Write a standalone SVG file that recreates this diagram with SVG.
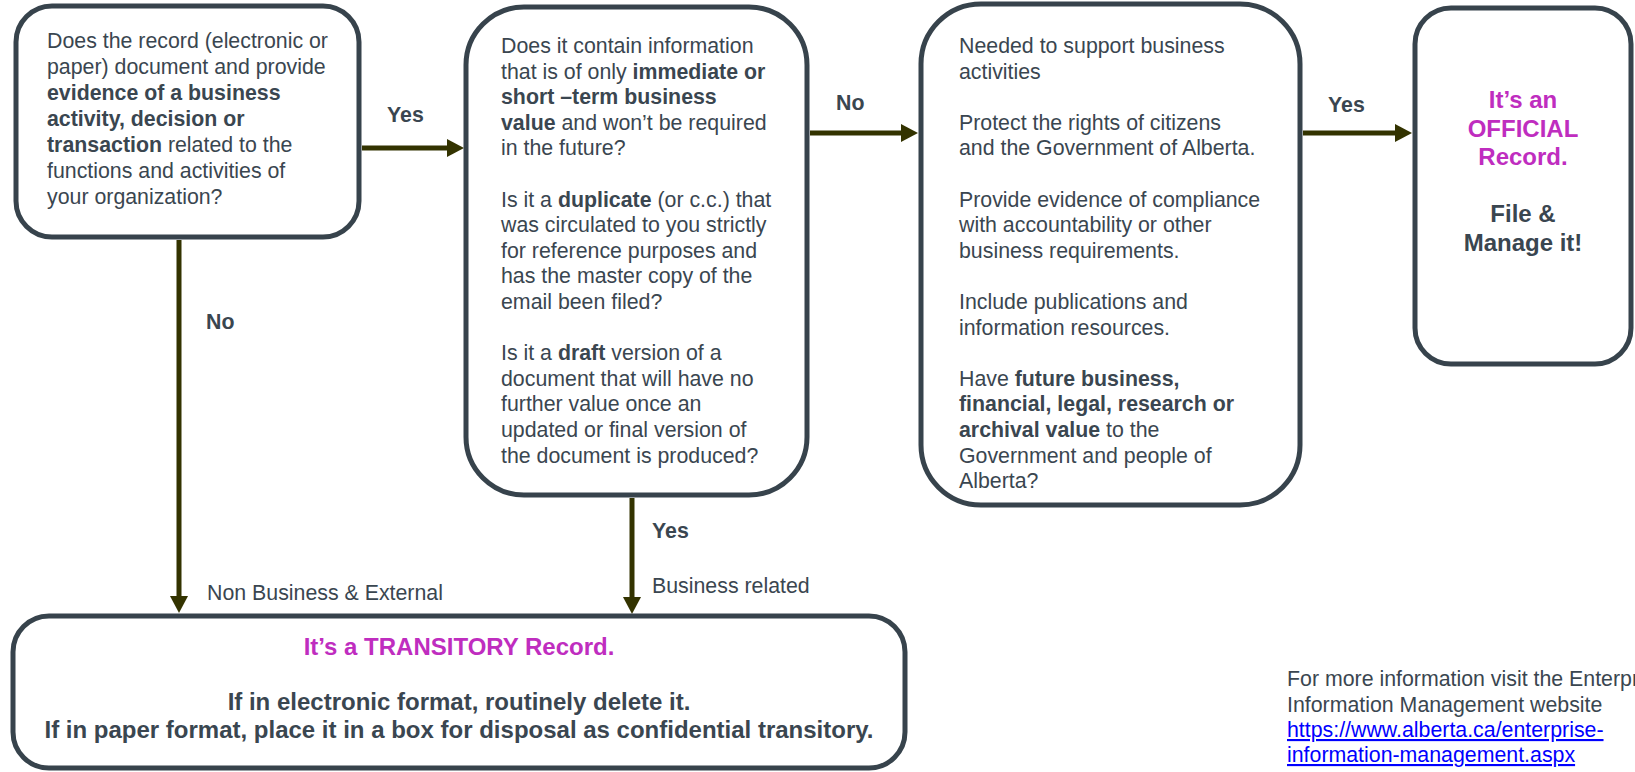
<svg xmlns="http://www.w3.org/2000/svg" width="1635" height="772" viewBox="0 0 1635 772">
  <defs>
    <marker id="arrowhead" markerUnits="userSpaceOnUse" viewBox="0 0 17 18" refX="9" refY="9" markerWidth="17" markerHeight="18" orient="auto">
      <path d="M0,0 L17,9 L0,18 z" fill="#333300"/>
    </marker>
    <style>
      .box { fill: #ffffff; stroke: #37434C; stroke-width: 5; }
      .txt { font-family: "Liberation Sans", Arial, sans-serif; font-size: 21.33px; fill: #3A4650; }
      .b { font-weight: bold; }
      .big { font-family: "Liberation Sans", Arial, sans-serif; font-size: 24px; font-weight: bold; text-anchor: middle; }
      .hl { fill: #BF2DBF; }
      .dk { fill: #3A4650; }
      .link { fill: #0000FF; text-decoration: underline; }
      .conn { fill: none; stroke: #333300; stroke-width: 5; marker-end: url(#arrowhead); }
    </style>
  </defs>
  <rect width="1635" height="772" fill="#ffffff"/>

  <!-- connectors -->
  <g id="connectors">
    <path class="conn" d="M362,148 H456"/>
    <path class="conn" d="M810,133 H910"/>
    <path class="conn" d="M1303,133 H1404"/>
    <path class="conn" d="M179,240 V605"/>
    <path class="conn" d="M632,498 V606"/>
    <text class="txt b" x="387" y="122">Yes</text>
    <text class="txt b" x="836" y="110">No</text>
    <text class="txt b" x="1328" y="112">Yes</text>
    <text class="txt b" x="206" y="329">No</text>
    <text class="txt" x="207" y="600">Non Business &amp; External</text>
    <text class="txt b" x="652" y="538">Yes</text>
    <text class="txt" x="652" y="593">Business related</text>
  </g>

  <!-- question: evidence of business activity -->
  <g id="q-evidence">
    <rect class="box" x="16" y="6" width="343" height="231" rx="36" ry="36"/>
    <text class="txt" x="47" y="48">Does the record (electronic or</text>
    <text class="txt" x="47" y="74">paper) document and provide</text>
    <text class="txt b" x="47" y="100">evidence of a business</text>
    <text class="txt b" x="47" y="126">activity, decision or</text>
    <text class="txt" x="47" y="152"><tspan class="b">transaction</tspan> related to the</text>
    <text class="txt" x="47" y="178">functions and activities of</text>
    <text class="txt" x="47" y="204">your organization?</text>
  </g>

  <!-- question: short-term value / duplicate / draft -->
  <g id="q-short-term">
    <rect class="box" x="466" y="7" width="341" height="488" rx="58" ry="58"/>
    <text class="txt" x="501" y="53">Does it contain information</text>
    <text class="txt" x="501" y="78.6">that is of only <tspan class="b">immediate or</tspan></text>
    <text class="txt b" x="501" y="104.2">short –term business</text>
    <text class="txt" x="501" y="129.8"><tspan class="b">value</tspan> and won’t be required</text>
    <text class="txt" x="501" y="155.4">in the future?</text>
    <text class="txt" x="501" y="206.6">Is it a <tspan class="b">duplicate</tspan> (or c.c.) that</text>
    <text class="txt" x="501" y="232.2">was circulated to you strictly</text>
    <text class="txt" x="501" y="257.8">for reference purposes and</text>
    <text class="txt" x="501" y="283.4">has the master copy of the</text>
    <text class="txt" x="501" y="309">email been filed?</text>
    <text class="txt" x="501" y="360.2">Is it a <tspan class="b">draft</tspan> version of a</text>
    <text class="txt" x="501" y="385.8">document that will have no</text>
    <text class="txt" x="501" y="411.4">further value once an</text>
    <text class="txt" x="501" y="437">updated or final version of</text>
    <text class="txt" x="501" y="462.6">the document is produced?</text>
  </g>

  <!-- criteria for an official record -->
  <g id="q-criteria">
    <rect class="box" x="921" y="4" width="379" height="501" rx="60" ry="60"/>
    <text class="txt" x="959" y="53">Needed to support business</text>
    <text class="txt" x="959" y="78.6">activities</text>
    <text class="txt" x="959" y="129.8">Protect the rights of citizens</text>
    <text class="txt" x="959" y="155.4">and the Government of Alberta.</text>
    <text class="txt" x="959" y="206.6">Provide evidence of compliance</text>
    <text class="txt" x="959" y="232.2">with accountability or other</text>
    <text class="txt" x="959" y="257.8">business requirements.</text>
    <text class="txt" x="959" y="309">Include publications and</text>
    <text class="txt" x="959" y="334.6">information resources.</text>
    <text class="txt" x="959" y="385.8">Have <tspan class="b">future business,</tspan></text>
    <text class="txt b" x="959" y="411.4">financial, legal, research or</text>
    <text class="txt" x="959" y="437"><tspan class="b">archival value</tspan> to the</text>
    <text class="txt" x="959" y="462.6">Government and people of</text>
    <text class="txt" x="959" y="488.2">Alberta?</text>
  </g>

  <!-- outcome: official record -->
  <g id="official-record">
    <rect class="box" x="1415" y="8" width="216" height="356" rx="36" ry="36"/>
    <text class="big hl" x="1523" y="108">It’s an</text>
    <text class="big hl" x="1523" y="136.5">OFFICIAL</text>
    <text class="big hl" x="1523" y="165">Record.</text>
    <text class="big dk" x="1523" y="222">File &amp;</text>
    <text class="big dk" x="1523" y="251">Manage it!</text>
  </g>

  <!-- outcome: transitory record -->
  <g id="transitory-record">
    <rect class="box" x="13" y="616" width="892" height="152" rx="36" ry="36"/>
    <text class="big hl" x="459" y="655">It’s a TRANSITORY Record.</text>
    <text class="big dk" x="459" y="710">If in electronic format, routinely delete it.</text>
    <text class="big dk" x="459" y="738">If in paper format, place it in a box for disposal as confidential transitory.</text>
  </g>

  <!-- footer note -->
  <g id="footer">
    <text class="txt" x="1287" y="686">For more information visit the Enterprise</text>
    <text class="txt" x="1287" y="712">Information Management website</text>
    <text class="txt link" x="1287" y="737">https://www.alberta.ca/enterprise-</text>
    <text class="txt link" x="1287" y="762">information-management.aspx</text>
  </g>
</svg>
